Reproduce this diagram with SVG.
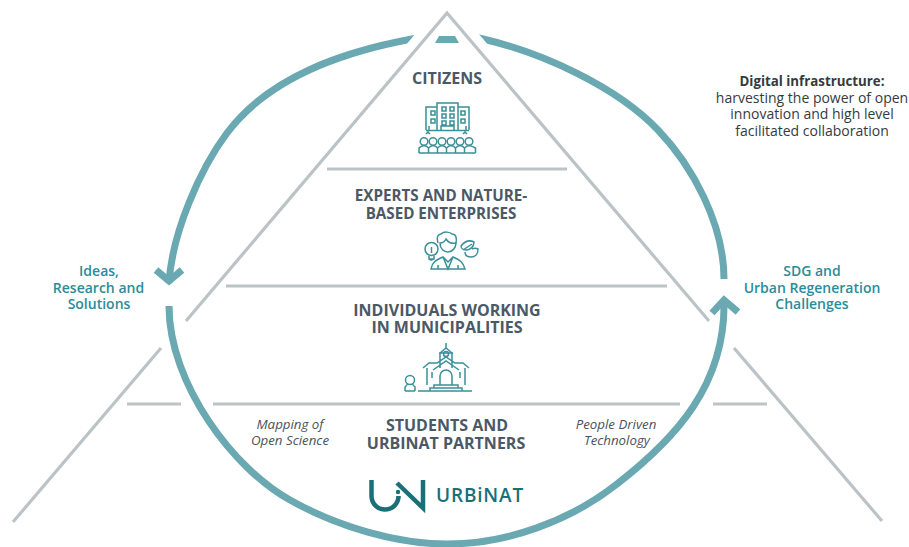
<svg xmlns="http://www.w3.org/2000/svg" width="909" height="547" viewBox="0 0 909 547">
<style>
.g{stroke:#bcc3c6;stroke-width:3.2;fill:none}
.r{stroke:#6aa9b1;stroke-width:7;fill:none}
.i{stroke:#3a9099;stroke-width:1.500;fill:none}
.h{font:700 16px "Open Sans",sans-serif;fill:#4b5866;text-anchor:middle}
.t{font:600 14px "Open Sans",sans-serif;fill:#2a8c99;text-anchor:middle}
.e{font:italic 400 13.300px "Open Sans",sans-serif;fill:#48535c;text-anchor:middle}
.d{font:400 14px "Open Sans",sans-serif;fill:#333b40;text-anchor:middle}
</style>
<defs>
<clipPath id="cl"><path d="M0 0H444L190 300H0Z"/></clipPath>
<clipPath id="cr"><path d="M450 0H909V300H704Z"/></clipPath>
</defs>
<rect width="909" height="547" fill="#fff"/>
<g id="connectors">
<path class="g" d="M186 321 447 13 709 321M161 348 13 522M734 348 882 521M327 169H567M226 286H667M213 404H680M127 404H181M713 404H767"/>
<g clip-path="url(#cl)"><path class="r" d="M425 36.600 412 39C342 52 269 77 227 133C200 169 172 233 169 283"/></g>
<path class="r" d="M156 270 169 281 182 270"/>
<path class="r" d="M169 306C169 385 235 470 290 500C338 527 397 544 447 544C507 544 570 521 617 484C675 439 726 385 724 300"/>
<path class="r" d="M712 313 724 300 738 312"/>
<g clip-path="url(#cr)"><path class="r" d="M470 36 483 39C543 53 617 87 658 130C692.500 166 724 224 724 279"/></g>
<path d="M435 43 439 36H455L459 43Z" fill="#6aa9b1"/>
</g>
<g id="citizens"><text class="h" x="447" y="84">CITIZENS</text>
<path class="i" d="M426 130V107H437M437 131V103H458V131M458 107H469V130M426 130.500H469M431 111h4v4h-4zM431 119h4v4h-4zM442 107h4v4h-4zM450 107h4v4h-4zM442 114h4v4h-4zM450 114h4v4h-4zM442 121h4v4h-4zM450 121h4v4h-4zM461 111h4v4h-4zM461 119h4v4h-4zM441 131v-5h13v5M429 126v4M466 126v4M426 134l2-2 2 2M463 134l2-2 2 2"/>
<g class="i"><circle cx="424" cy="141.500" r="3.800"/><circle cx="433" cy="141.500" r="3.800"/><circle cx="442" cy="141.500" r="3.800"/><circle cx="451" cy="141.500" r="3.800"/><circle cx="460" cy="141.500" r="3.800"/><circle cx="469" cy="141.500" r="3.800"/><path d="M419 153V148q2-2 5-2.500 3 .5 4.500 2.500v5M428.500 153V148q2-2 4.500-2.500 3 .5 4.500 2.500v5M437.500 153V148q2-2 4.500-2.500 3 .5 4.500 2.500v5M446.500 153V148q2-2 4.500-2.500 3 .5 4.500 2.500v5M455.500 153V148q2-2 4.500-2.500 3 .5 4.500 2.500v5M464.500 153V148q2-2 4.500-2.500 3 .5 6.500 2.500v5M419 153H475.500"/></g></g>
<g id="experts"><text class="h" x="441" y="201" style="font-size:15.200px">EXPERTS AND NATURE-</text><text class="h" x="441" y="219" style="font-size:15.200px">BASED ENTERPRISES</text>
<g class="i"><path d="M438 243c-2-6 0-9 3-9 3-3 9-2 11 0 4 0 5 4 4 9"/><path d="M440 243c0 6 4 9 8 9s8-4 8-9c-4 1-8-1-10-4-1 2-3 4-6 4z"/><path d="M431 269c1-7 5-9 12-12l5 5 5-5c7 3 10 5 12 12zM443 257l5 12 5-12M438 269v-4M458 269v-4"/><circle cx="431.500" cy="249" r="6.500"/><path d="M429 256v3h5v-3M431.500 247v6M429 259q2 2 5 0"/><path d="M461 246c4-5 9-6 13-4 0 5-4 8-8 8-3 0-5-2-5-4zM465 252c0 3 2 5 6 5 4 0 7-3 7-8-2-1-4-1-6 0M463 250l9-6"/></g></g>
<g id="municipalities"><text class="h" x="447" y="316">INDIVIDUALS WORKING</text><text class="h" x="447" y="333">IN MUNICIPALITIES</text>
<g class="i"><path d="M446 343v5M440 368V353l6-5 6 5v15M439 353h14M423 368l6-5H437l9-6 9 6H463l6 5M427 368V385M465 368V385M433 370l13-9 13 9"/><circle cx="446" cy="354" r="2.500"/><path d="M440 385V376a6 6 0 0 1 12 0V385M432 372v6M460 372v6M418 391H472M430 391V388H462V391M434 388V385H458V388"/><circle cx="410" cy="380" r="4.500"/><path d="M405 391V387q2-2 2.500-3M415 391V387q-2-2-2.500-3M405 391H415"/></g></g>
<g id="students"><text class="h" x="447" y="431">STUDENTS AND</text><text class="h" x="446" y="449">URBINAT PARTNERS</text></g>
<g id="logo"><path d="M371.500 480V496a13.500 13.500 0 0 0 27 0V498M397 483 423 508V480" fill="none" stroke="#1a6f78" stroke-width="4.500"/><circle cx="398" cy="492" r="2.200" fill="#1a6f78"/><text x="480" y="502" font-family="Open Sans,sans-serif" font-size="19" font-weight="600" fill="#1a6f78" text-anchor="middle" letter-spacing=".8">URBiNAT</text></g>
<g id="mapping"><text class="e" x="290" y="429">Mapping of</text><text class="e" x="290" y="445">Open Science</text></g>
<g id="people"><text class="e" x="616" y="429">People Driven</text><text class="e" x="617" y="445">Technology</text></g>
<g id="ideas"><text class="t" x="99" y="276">Ideas,</text><text class="t" x="98.500" y="293">Research and</text><text class="t" x="99" y="309">Solutions</text></g>
<g id="sdg"><text class="t" x="812" y="276">SDG and</text><text class="t" x="812" y="293">Urban Regeneration</text><text class="t" x="812" y="309">Challenges</text></g>
<g id="digital"><text class="d" x="812" y="86" style="font-weight:700;font-size:13.300px">Digital infrastructure:</text><text class="d" x="812" y="103">harvesting the power of open</text><text class="d" x="812" y="119">innovation and high level</text><text class="d" x="812" y="136">facilitated collaboration</text></g>
</svg>
